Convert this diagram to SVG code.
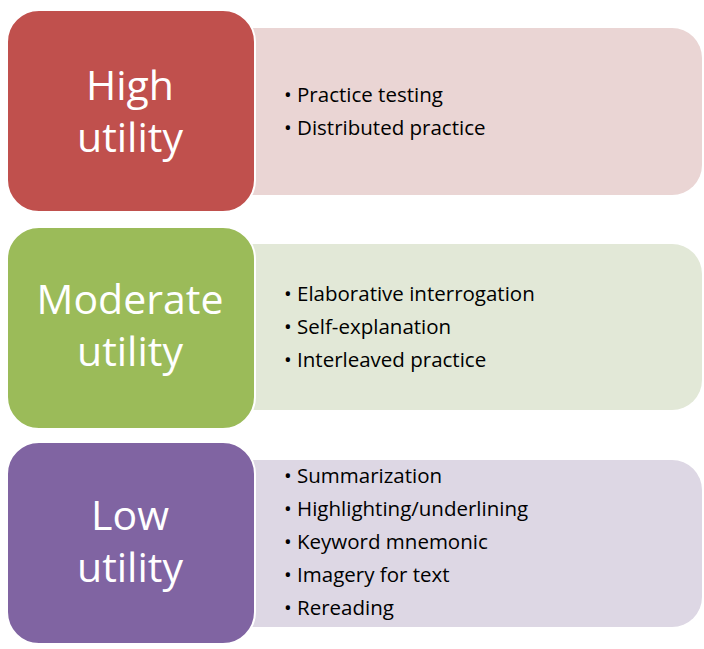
<svg xmlns="http://www.w3.org/2000/svg" width="704" height="649" viewBox="0 0 704 649">
<style>
.t{font-family:"Open Sans","Liberation Sans",sans-serif;font-size:41px;fill:#fff;text-anchor:middle}
.b{font-family:"Open Sans","Liberation Sans",sans-serif;font-size:20.5px;fill:#000}
.l{stroke:#fff;stroke-width:2}
</style>
<rect width="704" height="649" fill="#fff"/>
<g id="high">
<path d="M250 28 H672 a30 30 0 0 1 30 30 V165 a30 30 0 0 1 -30 30 H250 Z" fill="#EAD5D4"/>
<rect class="l" x="7" y="10" width="248" height="202" rx="32" fill="#C0504D"/>
<text class="t" x="130" y="100">High</text><text class="t" x="130" y="152">utility</text>
<text class="b" x="284" y="102">• Practice testing</text>
<text class="b" x="284" y="135">• Distributed practice</text>
</g>
<g id="moderate">
<path d="M250 244 H672 a30 30 0 0 1 30 30 V380 a30 30 0 0 1 -30 30 H250 Z" fill="#E2E8D7"/>
<rect class="l" x="7" y="227" width="248" height="202" rx="32" fill="#9BBB59"/>
<text class="t" x="130" y="314">Moderate</text><text class="t" x="130" y="366">utility</text>
<text class="b" x="284" y="301">• Elaborative interrogation</text>
<text class="b" x="284" y="334">• Self-explanation</text>
<text class="b" x="284" y="367">• Interleaved practice</text>
</g>
<g id="low">
<path d="M250 460 H672 a30 30 0 0 1 30 30 V597 a30 30 0 0 1 -30 30 H250 Z" fill="#DDD7E4"/>
<rect class="l" x="7" y="442" width="248" height="202" rx="32" fill="#8064A2"/>
<text class="t" x="130" y="530">Low</text><text class="t" x="130" y="582">utility</text>
<text class="b" x="284" y="483">• Summarization</text>
<text class="b" x="284" y="516">• Highlighting/underlining</text>
<text class="b" x="284" y="549">• Keyword mnemonic</text>
<text class="b" x="284" y="582">• Imagery for text</text>
<text class="b" x="284" y="615">• Rereading</text>
</g>
<g id="connectors"/>
</svg>
